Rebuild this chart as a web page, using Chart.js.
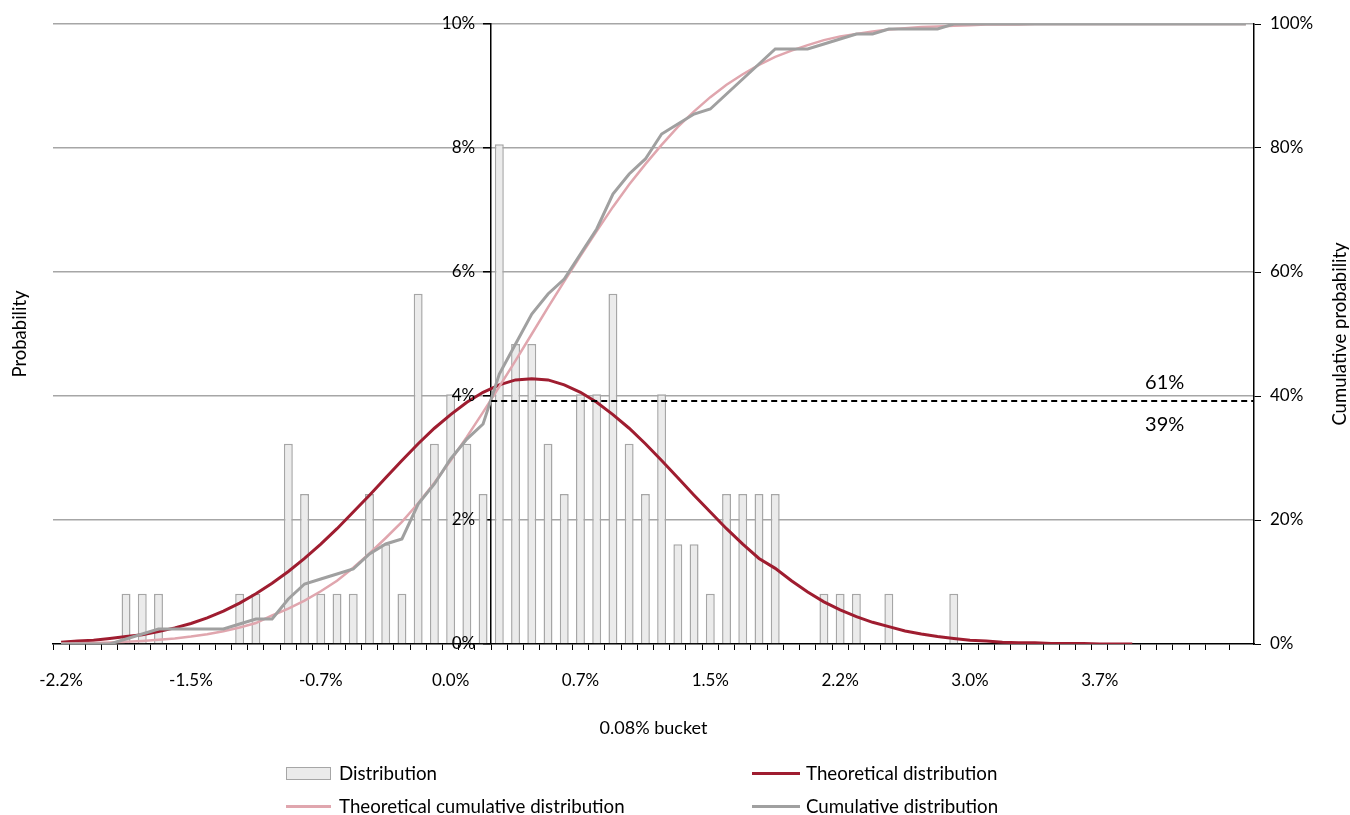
<!DOCTYPE html>
<html>
<head>
<meta charset="utf-8">
<title>Return distribution</title>
<script src="https://cdn.jsdelivr.net/npm/chart.js@4.4.1/dist/chart.umd.min.js"></script>
<style>
  body { margin: 0; background: #fff; }
  #wrap { position: relative; width: 1350px; height: 815px; }
  #legend { position: absolute; left: 0; top: 0; width: 100%; height: 100%; pointer-events: none; }
  .lg-item { position: absolute; display: flex; align-items: center; transform: translateY(-50%);
             font: 18.7px Lato, sans-serif; color: #000; white-space: nowrap; }
  .lg-mark { box-sizing: border-box; }
</style>
</head>
<body>
<div id="wrap">
  <canvas id="distChart"></canvas>
  <div id="legend"></div>
</div>
<script>
const FONT = "Lato, 'Open Sans', sans-serif";

// x axis: one label every 8 buckets
const tickLabels = ['-2.2%', '-1.5%', '-0.7%', '0.0%', '0.7%', '1.5%', '2.2%', '3.0%', '3.7%'];
const labelEvery = 8;
const bucketTitle = '0.08% bucket';
const zeroBucket = 26.5; // 0.0% return sits between buckets 26 and 27

// share of observations per bucket, %
const distribution = [
  0, 0, 0, 0, 0.81, 0.81, 0.81, 0, 0, 0,
  0, 0.81, 0.81, 0, 3.23, 2.42, 0.81, 0.81, 0.81, 2.42,
  1.61, 0.81, 5.65, 3.23, 4.03, 3.23, 2.42, 8.06, 4.84, 4.84,
  3.23, 2.42, 4.03, 4.03, 5.65, 3.23, 2.42, 4.03, 1.61, 1.61,
  0.81, 2.42, 2.42, 2.42, 2.42, 0, 0, 0.81, 0.81, 0.81,
  0, 0.81, 0, 0, 0, 0.81, 0, 0, 0, 0,
  0, 0, 0, 0, 0, 0, 0, 0, 0, 0,
  0, 0, 0, 0
];

// fitted normal, per bucket, %
const theoretical = [
  0.03, 0.05, 0.06, 0.09, 0.12, 0.15, 0.20, 0.26, 0.33, 0.42,
  0.53, 0.66, 0.81, 0.98, 1.17, 1.38, 1.61, 1.86, 2.13, 2.40,
  2.68, 2.96, 3.23, 3.48, 3.70, 3.90, 4.06, 4.18, 4.26, 4.28,
  4.26, 4.18, 4.06, 3.90, 3.70, 3.48, 3.23, 2.96, 2.68, 2.40,
  2.13, 1.86, 1.61, 1.38, 1.22, 1.02, 0.84, 0.68, 0.55, 0.44,
  0.35, 0.28, 0.21, 0.16, 0.12, 0.09, 0.06, 0.05, 0.03, 0.02,
  0.02, 0.01, 0.01, 0.01, 0.00, 0.00, 0.00
];

// cumulative, %
const theoreticalCumulative = [
  0.09, 0.13, 0.18, 0.26, 0.36, 0.49, 0.67, 0.90, 1.20, 1.57,
  2.05, 2.65, 3.38, 4.6, 5.7, 7.0, 8.5, 10.2, 12.3, 14.6,
  17.1, 19.7, 22.7, 26.0, 29.6, 33.4, 37.4, 41.5, 45.7, 50.0,
  54.3, 58.5, 62.6, 66.6, 70.5, 74.1, 77.4, 80.5, 83.4, 85.9,
  88.2, 90.2, 91.9, 93.4, 94.7, 95.7, 96.6, 97.4, 98.0, 98.4,
  98.8, 99.1, 99.3, 99.5, 99.6, 99.7, 99.8, 99.9, 99.9, 99.9,
  100, 100, 100, 100, 100, 100, 100, 100, 100, 100,
  100, 100, 100, 100
];
const cumulative = [
  0, 0, 0, 0, 0.81, 1.61, 2.42, 2.42, 2.42, 2.42,
  2.42, 3.23, 4.03, 4.03, 7.26, 9.68, 10.48, 11.29, 12.10, 14.52,
  16.13, 16.94, 22.58, 25.81, 29.84, 33.06, 35.48, 43.55, 48.39, 53.23,
  56.45, 58.87, 62.90, 66.94, 72.58, 75.81, 78.23, 82.26, 83.87, 85.48,
  86.29, 88.71, 91.13, 93.55, 95.97, 95.97, 95.97, 96.77, 97.58, 98.39,
  98.39, 99.19, 99.19, 99.19, 99.19, 100, 100, 100, 100, 100,
  100, 100, 100, 100, 100, 100, 100, 100, 100, 100,
  100, 100, 100, 100
];

// probability of a negative return, and the split labels
const splitLevel = 39.2;
const splitLabels = ['61%', '39%'];
const splitLabelBucket = 68;

const leftTitle = 'Probability';
const rightTitle = 'Cumulative probability';

const BAR_FILL = '#ebebeb', BAR_EDGE = '#a6a6a6';
const RED = '#9f1d30', PINK = '#e0a6ae', GREY = '#a0a0a0';

const extrasPlugin = {
  id: 'extras',
  afterDraw(chart) {
    const { ctx, chartArea, scales } = chart;
    const x = scales.x, y = scales.y, yCum = scales.yCum;
    const axisX = x.getPixelForValue(zeroBucket);
    const ySplit = Math.round(yCum.getPixelForValue(splitLevel));

    ctx.save();
    // left axis labels sit left of the crossing axis
    ctx.fillStyle = '#000';
    ctx.font = '17px ' + FONT;
    ctx.textAlign = 'right';
    ctx.textBaseline = 'middle';
    y.ticks.forEach(t => ctx.fillText(t.value + '%', axisX - 16, y.getPixelForValue(t.value)));

    ctx.strokeStyle = '#000';
    ctx.lineWidth = 2;
    ctx.setLineDash([6, 4]);
    ctx.beginPath();
    ctx.moveTo(axisX, ySplit);
    ctx.lineTo(chartArea.right, ySplit);
    ctx.stroke();
    ctx.setLineDash([]);

    ctx.font = '20px ' + FONT;
    ctx.textAlign = 'center';
    const lx = x.getPixelForValue(splitLabelBucket);
    ctx.fillText(splitLabels[0], lx, ySplit - 18);
    ctx.fillText(splitLabels[1], lx, ySplit + 24);

    // axis titles, both reading bottom to top
    const midY = (chartArea.top + chartArea.bottom) / 2;
    ctx.font = '18.5px ' + FONT;
    [[20, leftTitle], [1340, rightTitle]].forEach(([tx, text]) => {
      ctx.save();
      ctx.translate(tx, midY);
      ctx.rotate(-Math.PI / 2);
      ctx.fillText(text, 0, 0);
      ctx.restore();
    });
    ctx.restore();
  }
};

const tickFont = { family: FONT, size: 17 };

const chart = new Chart(document.getElementById('distChart'), {
  type: 'bar',
  data: {
    labels: distribution.map((_, i) => i),
    datasets: [
      {
        type: 'bar',
        label: 'Distribution',
        data: distribution,
        backgroundColor: BAR_FILL,
        borderColor: BAR_EDGE,
        borderWidth: 1.5,
        barPercentage: 0.55,
        categoryPercentage: 1,
        yAxisID: 'y',
        order: 4
      },
      {
        type: 'line',
        label: 'Theoretical distribution',
        data: theoretical,
        borderColor: RED,
        backgroundColor: RED,
        borderWidth: 3,
        pointRadius: 0,
        yAxisID: 'y',
        order: 3
      },
      {
        type: 'line',
        label: 'Theoretical cumulative distribution',
        data: theoreticalCumulative,
        borderColor: PINK,
        backgroundColor: PINK,
        borderWidth: 2.5,
        pointRadius: 0,
        yAxisID: 'yCum',
        order: 2
      },
      {
        type: 'line',
        label: 'Cumulative distribution',
        data: cumulative,
        borderColor: GREY,
        backgroundColor: GREY,
        borderWidth: 3,
        pointRadius: 0,
        yAxisID: 'yCum',
        order: 1
      }
    ]
  },
  options: {
    responsive: true,
    maintainAspectRatio: false,
    animation: false,
    layout: { padding: { left: 53, top: 24, right: 0, bottom: 0 } },
    plugins: {
      legend: { display: false },
      tooltip: { enabled: false }
    },
    scales: {
      x: {
        type: 'category',
        offset: true,
        grid: { offset: true, drawOnChartArea: false, color: '#000', tickColor: '#000', tickLength: 6, lineWidth: 1 },
        border: { color: '#000', width: 1.5 },
        ticks: {
          autoSkip: false,
          maxRotation: 0,
          color: '#000',
          font: tickFont,
          padding: 20,
          callback: (v, i) => (i % labelEvery === 0 ? tickLabels[i / labelEvery] : '')
        },
        title: { display: true, text: bucketTitle, color: '#000', font: { family: FONT, size: 18 }, padding: { top: 0, bottom: 76 } },
        afterFit: s => { s.height = 171; }
      },
      y: {
        position: { x: zeroBucket },
        min: 0,
        max: 10,
        ticks: { stepSize: 2, display: false },
        grid: {
          color: c => (c.tick && c.tick.value === 0 ? 'rgba(0,0,0,0)' : '#a6a6a6'),
          lineWidth: 1.5,
          tickColor: '#000',
          tickLength: 7
        },
        border: { color: '#000', width: 1.5 }
      },
      yCum: {
        position: 'right',
        min: 0,
        max: 100,
        ticks: { stepSize: 20, color: '#000', font: tickFont, padding: 9, callback: v => v + '%' },
        grid: { drawOnChartArea: false, color: '#000', tickColor: '#000', tickLength: 7 },
        border: { color: '#000', width: 1.5 },
        afterFit: s => { s.width = 96; }
      }
    }
  },
  plugins: [extrasPlugin]
});

// legend as a 2x2 grid under the chart
const legendSlots = [
  { left: 286, top: 773, mark: 45, gap: 8 }, { left: 752, top: 773, mark: 48, gap: 6 },
  { left: 286, top: 806, mark: 45, gap: 8 }, { left: 752, top: 806, mark: 48, gap: 6 }
];
const legendEl = document.getElementById('legend');
chart.data.datasets.forEach((ds, i) => {
  const slot = legendSlots[i];
  const item = document.createElement('div');
  item.className = 'lg-item';
  item.style.left = slot.left + 'px';
  item.style.top = slot.top + 'px';
  const mark = document.createElement('span');
  mark.className = 'lg-mark';
  mark.style.width = slot.mark + 'px';
  mark.style.marginRight = slot.gap + 'px';
  if (ds.type === 'bar') {
    mark.style.height = '13px';
    mark.style.background = ds.backgroundColor;
    mark.style.border = '1.5px solid ' + ds.borderColor;
  } else {
    mark.style.height = '3px';
    mark.style.background = ds.borderColor;
  }
  item.appendChild(mark);
  item.appendChild(document.createTextNode(ds.label));
  legendEl.appendChild(item);
});
</script>
</body>
</html>
